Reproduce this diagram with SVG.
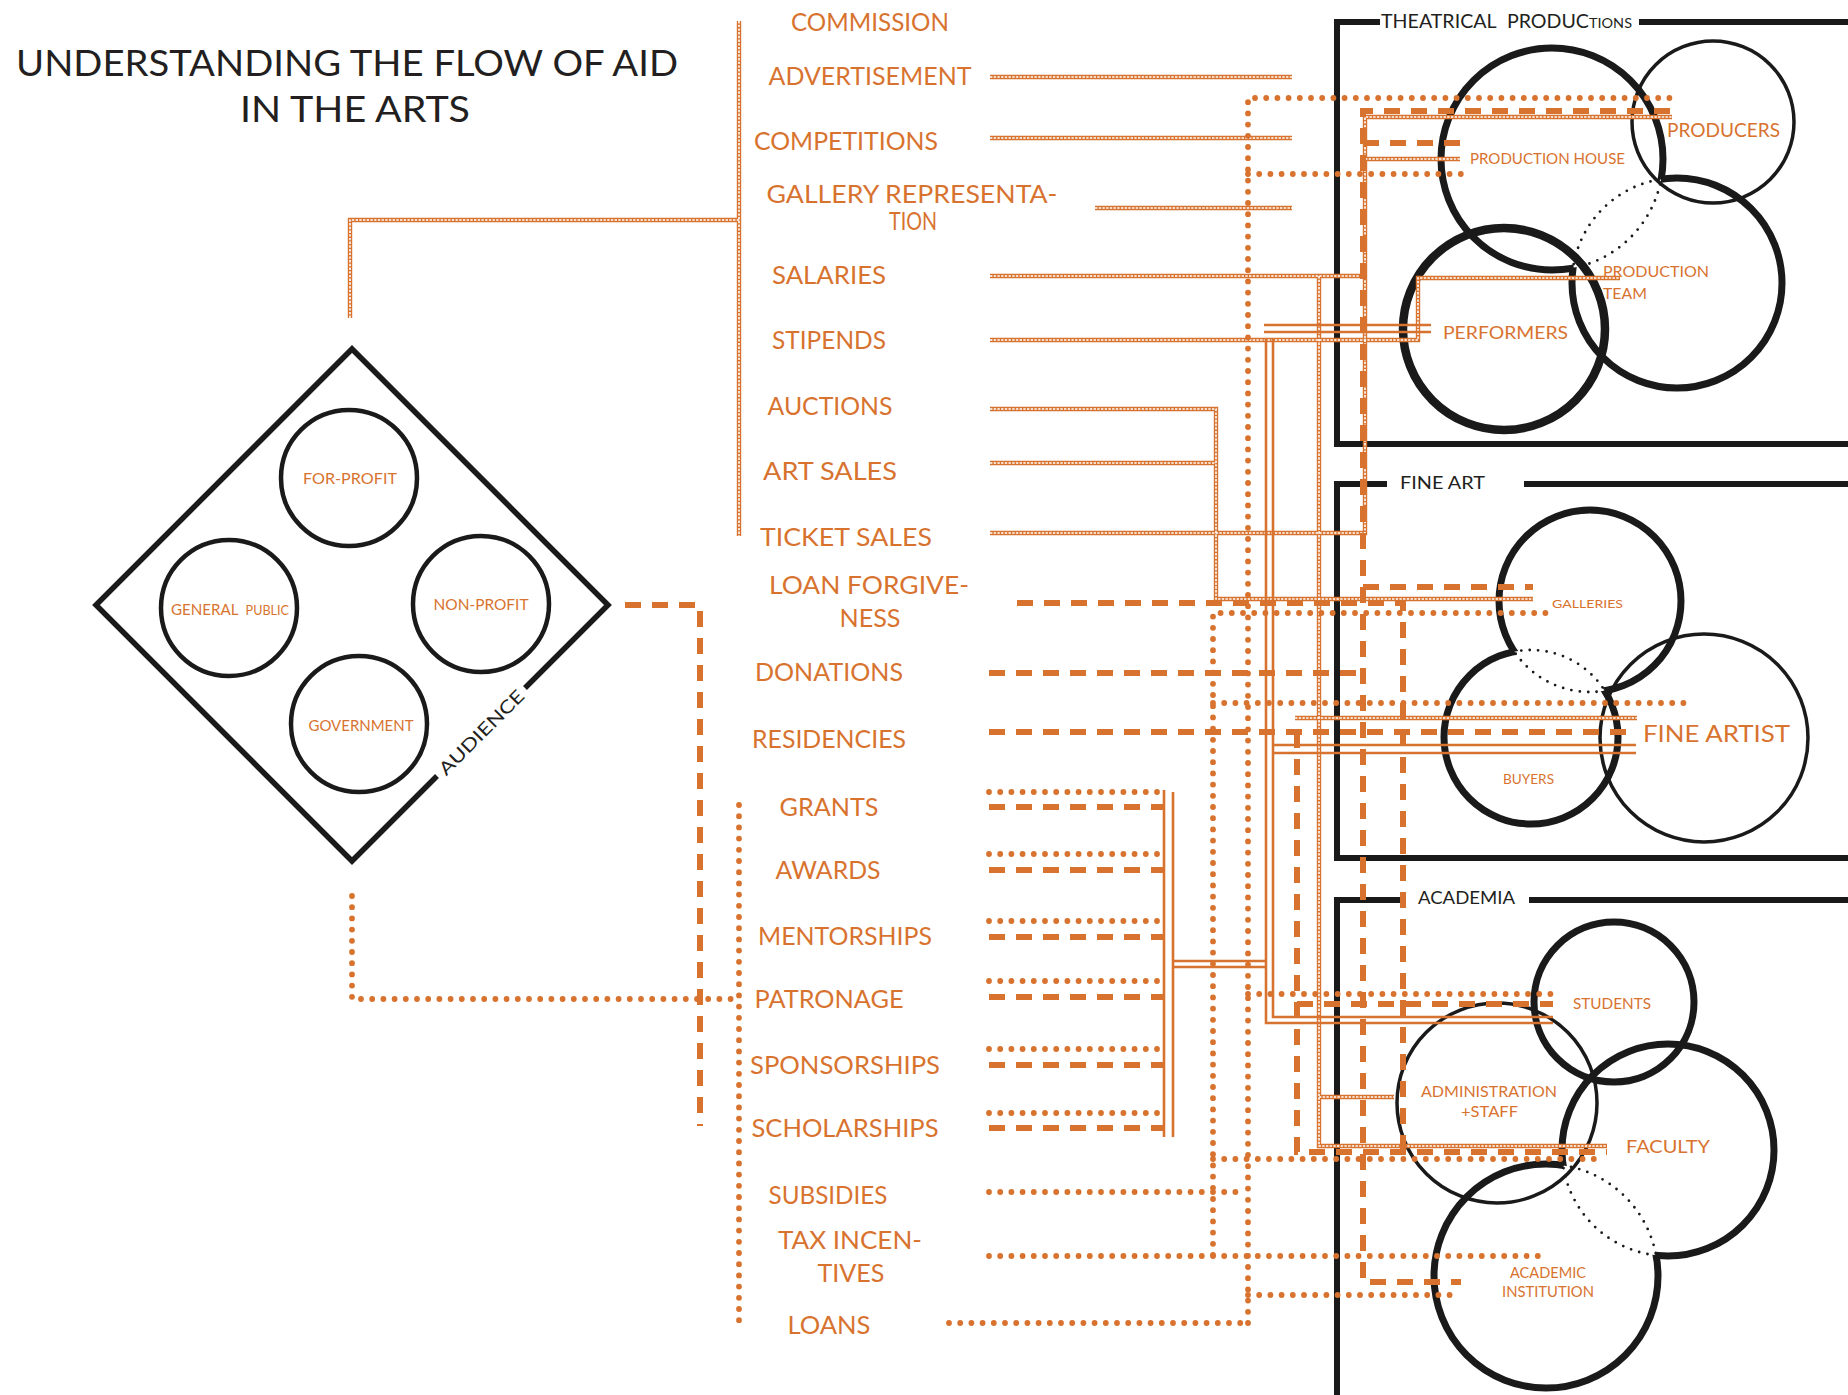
<svg xmlns="http://www.w3.org/2000/svg" width="1848" height="1395" viewBox="0 0 1848 1395">
<defs>
<style>
text{font-family:Lato,"Noto Sans",sans-serif;}
.t{fill:#231F20;}
.o{fill:#D8732F;}
.lbl{font-size:25px;text-anchor:middle;fill:#D8732F;}
.mid{text-anchor:middle;}
.ln{fill:none;stroke:#1A1A1A;stroke-width:6;stroke-linejoin:miter;}
.ring{fill:none;stroke:#1A1A1A;}
.w3{stroke-width:3.5;}
.w4{stroke-width:4.5;}
.w5{stroke-width:5.5;}
.w7{stroke-width:7;}
.w8{stroke-width:8.5;}
.lens{fill:none;stroke:#1A1A1A;stroke-width:2.8;stroke-dasharray:0 8.5;stroke-linecap:round;}
.zzA{fill:none;stroke:#D8732F;stroke-width:4.4;}
.zzB{fill:none;stroke:#FFFFFF;stroke-width:1.6;stroke-dasharray:2.4 1.3;}
.dot{fill:none;stroke:#D8732F;stroke-width:5.8;stroke-linecap:round;stroke-dasharray:0 11.2;}
.dash{fill:none;stroke:#D8732F;stroke-width:6;stroke-dasharray:16 11;}
.dbl{fill:none;stroke:#D8732F;stroke-width:2.6;}
</style>
<clipPath id="outT"><path clip-rule="evenodd" d="M0,0H1848V1395H0Z M1782,283 a105,105 0 1,0 -210,0 a105,105 0 1,0 210,0Z"/></clipPath>
<clipPath id="inT"><circle cx="1677" cy="283" r="105"/></clipPath>
<clipPath id="outH"><path clip-rule="evenodd" d="M0,0H1848V1395H0Z M1663,159 a111,111 0 1,0 -222,0 a111,111 0 1,0 222,0Z"/></clipPath>
<clipPath id="inH"><circle cx="1552" cy="159" r="111"/></clipPath>
<clipPath id="outG"><path clip-rule="evenodd" d="M0,0H1848V1395H0Z M1681,601 a91,91 0 1,0 -182,0 a91,91 0 1,0 182,0Z"/></clipPath>
<clipPath id="inG"><circle cx="1590" cy="601" r="91"/></clipPath>
<clipPath id="outB"><path clip-rule="evenodd" d="M0,0H1848V1395H0Z M1618,737 a87,87 0 1,0 -174,0 a87,87 0 1,0 174,0Z"/></clipPath>
<clipPath id="inB"><circle cx="1531" cy="737" r="87"/></clipPath>
<clipPath id="outF"><path clip-rule="evenodd" d="M0,0H1848V1395H0Z M1774,1150 a106,106 0 1,0 -212,0 a106,106 0 1,0 212,0Z"/></clipPath>
<clipPath id="inF"><circle cx="1668" cy="1150" r="106"/></clipPath>
<clipPath id="outI"><path clip-rule="evenodd" d="M0,0H1848V1395H0Z M1658,1276 a112,112 0 1,0 -224,0 a112,112 0 1,0 224,0Z"/></clipPath>
<clipPath id="inI"><circle cx="1546" cy="1276" r="112"/></clipPath>
<g id="zzpaths">
<path d="M739,21 V536"/>
<path d="M350,318 V220 H739"/>
<path d="M990,77 H1292"/>
<path d="M990,138 H1292"/>
<path d="M1095,208 H1292"/>
<path d="M990,276 H1365"/>
<path d="M1319,276 V1146 H1607"/>
<path d="M1319,1097 H1394"/>
<path d="M990,340 H1418 V278 H1620"/>
<path d="M990,409 H1216 V599 H1533"/>
<path d="M990,463 H1216"/>
<path d="M990,533 H1365 V117 H1672"/>
<path d="M1365,159 H1460"/>
<path d="M1295,718 H1637"/>
</g>
</defs>
<rect width="1848" height="1395" fill="#FFFFFF"/>

<g id="title">
<text class="t mid" x="347" y="76" font-size="37" textLength="662" lengthAdjust="spacingAndGlyphs">UNDERSTANDING THE FLOW OF AID</text>
<text class="t mid" x="355" y="122" font-size="37" textLength="230" lengthAdjust="spacingAndGlyphs">IN THE ARTS</text>
</g>

<g id="audience">
<path class="ln w5" d="M525,688 L608,605 L352,349 L96,605 L352,861 L437,776"/>
<text class="t mid" transform="translate(481,732) rotate(-45)" x="0" y="7" font-size="18" textLength="112" lengthAdjust="spacingAndGlyphs">AUDIENCE</text>
<g id="for-profit"><circle class="ring w4" cx="349" cy="478" r="68"/><text class="o mid" x="350" y="484" font-size="15.5" textLength="94" lengthAdjust="spacingAndGlyphs">FOR-PROFIT</text></g>
<g id="general-public"><circle class="ring w4" cx="229" cy="608" r="68"/><text class="o" x="171" y="615" font-size="15" textLength="118" lengthAdjust="spacingAndGlyphs">GENERAL<tspan dx="7" font-size="12.5">PUBLIC</tspan></text></g>
<g id="non-profit"><circle class="ring w4" cx="481" cy="604" r="68"/><text class="o mid" x="481" y="610" font-size="15.5" textLength="95" lengthAdjust="spacingAndGlyphs">NON-PROFIT</text></g>
<g id="government"><circle class="ring w4" cx="359" cy="724" r="68"/><text class="o mid" x="361" y="731" font-size="15.5" textLength="105" lengthAdjust="spacingAndGlyphs">GOVERNMENT</text></g>
</g>

<g id="aid-labels">
<g id="l-commission"><text class="lbl" x="870" y="31" textLength="158" lengthAdjust="spacingAndGlyphs">COMMISSION</text></g>
<g id="l-advertisement"><text class="lbl" x="870" y="85" textLength="203" lengthAdjust="spacingAndGlyphs">ADVERTISEMENT</text></g>
<g id="l-competitions"><text class="lbl" x="846" y="150" textLength="184" lengthAdjust="spacingAndGlyphs">COMPETITIONS</text></g>
<g id="l-gallery"><text class="lbl" x="912" y="203" textLength="291" lengthAdjust="spacingAndGlyphs">GALLERY REPRESENTA-</text><text class="lbl" x="913" y="230" font-size="22" textLength="48" lengthAdjust="spacingAndGlyphs">TION</text></g>
<g id="l-salaries"><text class="lbl" x="829" y="284" textLength="114" lengthAdjust="spacingAndGlyphs">SALARIES</text></g>
<g id="l-stipends"><text class="lbl" x="829" y="349" textLength="114" lengthAdjust="spacingAndGlyphs">STIPENDS</text></g>
<g id="l-auctions"><text class="lbl" x="830" y="415" textLength="125" lengthAdjust="spacingAndGlyphs">AUCTIONS</text></g>
<g id="l-artsales"><text class="lbl" x="830" y="480" textLength="134" lengthAdjust="spacingAndGlyphs">ART SALES</text></g>
<g id="l-ticketsales"><text class="lbl" x="846" y="546" textLength="172" lengthAdjust="spacingAndGlyphs">TICKET SALES</text></g>
<g id="l-loanforgiveness"><text class="lbl" x="869" y="594" textLength="200" lengthAdjust="spacingAndGlyphs">LOAN FORGIVE-</text><text class="lbl" x="870" y="627" textLength="61" lengthAdjust="spacingAndGlyphs">NESS</text></g>
<g id="l-donations"><text class="lbl" x="829" y="681" textLength="148" lengthAdjust="spacingAndGlyphs">DONATIONS</text></g>
<g id="l-residencies"><text class="lbl" x="829" y="748" textLength="154" lengthAdjust="spacingAndGlyphs">RESIDENCIES</text></g>
<g id="l-grants"><text class="lbl" x="829" y="816" textLength="99" lengthAdjust="spacingAndGlyphs">GRANTS</text></g>
<g id="l-awards"><text class="lbl" x="828" y="879" textLength="105" lengthAdjust="spacingAndGlyphs">AWARDS</text></g>
<g id="l-mentorships"><text class="lbl" x="845" y="945" textLength="174" lengthAdjust="spacingAndGlyphs">MENTORSHIPS</text></g>
<g id="l-patronage"><text class="lbl" x="829" y="1008" textLength="149" lengthAdjust="spacingAndGlyphs">PATRONAGE</text></g>
<g id="l-sponsorships"><text class="lbl" x="845" y="1074" textLength="190" lengthAdjust="spacingAndGlyphs">SPONSORSHIPS</text></g>
<g id="l-scholarships"><text class="lbl" x="845" y="1137" textLength="187" lengthAdjust="spacingAndGlyphs">SCHOLARSHIPS</text></g>
<g id="l-subsidies"><text class="lbl" x="828" y="1204" textLength="119" lengthAdjust="spacingAndGlyphs">SUBSIDIES</text></g>
<g id="l-taxincentives"><text class="lbl" x="850" y="1249" textLength="144" lengthAdjust="spacingAndGlyphs">TAX INCEN-</text><text class="lbl" x="851" y="1282" textLength="67" lengthAdjust="spacingAndGlyphs">TIVES</text></g>
<g id="l-loans"><text class="lbl" x="829" y="1334" textLength="83" lengthAdjust="spacingAndGlyphs">LOANS</text></g>
</g>

<g id="theatrical">
<path class="ln" d="M1380,22 H1337 V444 H1848 M1639,22 H1848"/>
<text class="t" x="1381" y="28" font-size="19" textLength="251" lengthAdjust="spacingAndGlyphs">THEATRICAL<tspan dx="10">PRODUC</tspan><tspan font-size="14">TIONS</tspan></text>
<g id="producers"><circle class="ring w3" cx="1713" cy="122" r="81"/><text class="o" x="1667" y="137" font-size="18.5" textLength="113" lengthAdjust="spacingAndGlyphs">PRODUCERS</text></g>
<g id="production-house"><circle class="ring w7" cx="1552" cy="159" r="111" clip-path="url(#outT)"/><circle class="lens" cx="1552" cy="159" r="111" clip-path="url(#inT)"/><text class="o" x="1470" y="164" font-size="15.5" textLength="155" lengthAdjust="spacingAndGlyphs">PRODUCTION HOUSE</text></g>
<g id="production-team"><circle class="ring w7" cx="1677" cy="283" r="105" clip-path="url(#outH)"/><circle class="lens" cx="1677" cy="283" r="105" clip-path="url(#inH)"/><text class="o" x="1603" y="277" font-size="16" textLength="106" lengthAdjust="spacingAndGlyphs">PRODUCTION</text><text class="o" x="1603" y="299" font-size="16" textLength="44" lengthAdjust="spacingAndGlyphs">TEAM</text></g>
<g id="performers"><circle class="ring w8" cx="1504" cy="329" r="101"/><text class="o" x="1443" y="339" font-size="18" textLength="125" lengthAdjust="spacingAndGlyphs">PERFORMERS</text></g>
</g>

<g id="fine-art">
<path class="ln" d="M1387,484 H1337 V858 H1848 M1524,484 H1848"/>
<text class="t" x="1400" y="489" font-size="18" textLength="85" lengthAdjust="spacingAndGlyphs">FINE ART</text>
<g id="galleries"><circle class="ring w7" cx="1590" cy="601" r="91" clip-path="url(#outB)"/><circle class="lens" cx="1590" cy="601" r="91" clip-path="url(#inB)"/><text class="o" x="1552" y="608" font-size="12" textLength="71" lengthAdjust="spacingAndGlyphs">GALLERIES</text></g>
<g id="buyers"><circle class="ring w7" cx="1531" cy="737" r="87" clip-path="url(#outG)"/><circle class="lens" cx="1531" cy="737" r="87" clip-path="url(#inG)"/><text class="o" x="1503" y="784" font-size="12.5" textLength="51" lengthAdjust="spacingAndGlyphs">BUYERS</text></g>
<g id="fine-artist"><circle class="ring w3" cx="1704" cy="738" r="104"/><text class="o" x="1643" y="742" font-size="23" textLength="147" lengthAdjust="spacingAndGlyphs">FINE ARTIST</text></g>
</g>

<g id="academia">
<path class="ln" d="M1402,900 H1337 V1395 M1529,900 H1848"/>
<text class="t" x="1418" y="904" font-size="17" textLength="97" lengthAdjust="spacingAndGlyphs">ACADEMIA</text>
<g id="students"><circle class="ring w7" cx="1614" cy="1002" r="80"/><text class="o" x="1573" y="1009" font-size="15" textLength="78" lengthAdjust="spacingAndGlyphs">STUDENTS</text></g>
<g id="administration"><circle class="ring w3" cx="1497" cy="1103" r="100"/><text class="o" x="1421" y="1097" font-size="15.5" textLength="136" lengthAdjust="spacingAndGlyphs">ADMINISTRATION</text><text class="o" x="1461" y="1117" font-size="15.5" textLength="57" lengthAdjust="spacingAndGlyphs">+STAFF</text></g>
<g id="faculty"><circle class="ring w7" cx="1668" cy="1150" r="106" clip-path="url(#outI)"/><circle class="lens" cx="1668" cy="1150" r="106" clip-path="url(#inI)"/><text class="o" x="1626" y="1153" font-size="17.5" textLength="84" lengthAdjust="spacingAndGlyphs">FACULTY</text></g>
<g id="academic-institution"><circle class="ring w7" cx="1546" cy="1276" r="112" clip-path="url(#outF)"/><circle class="lens" cx="1546" cy="1276" r="112" clip-path="url(#inF)"/><text class="o" x="1510" y="1278" font-size="14.5" textLength="76" lengthAdjust="spacingAndGlyphs">ACADEMIC</text><text class="o" x="1502" y="1297" font-size="14.5" textLength="92" lengthAdjust="spacingAndGlyphs">INSTITUTION</text></g>
</g>

<g id="connectors">
<use href="#zzpaths" class="zzA"/>
<use href="#zzpaths" class="zzB"/>
<g class="dot">
<path d="M1248,1323 V98 H1671"/>
<path d="M1248,174 H1463"/>
<path d="M1213,1255 V613 H1551"/>
<path d="M1213,703 H1686"/>
<path d="M989,1256 H1547"/>
<path d="M989,1192 H1236"/>
<path d="M1213,1159 H1603"/>
<path d="M1248,994 H1551"/>
<path d="M1248,1295 H1458"/>
<path d="M949,1323 H1248"/>
<path d="M989,792 H1165"/>
<path d="M989,854 H1165"/>
<path d="M989,921 H1165"/>
<path d="M989,981 H1165"/>
<path d="M989,1049 H1165"/>
<path d="M989,1113 H1165"/>
<path d="M739,805 V1324"/>
<path d="M352,896 V999 H739"/>
</g>
<g class="dash">
<path d="M1670,111 H1363 V1282 H1461"/>
<path d="M1363,143 H1460"/>
<path d="M1363,587 H1533"/>
<path d="M1017,603 H1403 V1152"/>
<path d="M989,673 H1363"/>
<path d="M989,732 H1634"/>
<path d="M1297,732 V1152 H1607"/>
<path d="M1297,1004 H1553"/>
<path d="M989,807 H1164"/>
<path d="M989,870 H1164"/>
<path d="M989,937 H1164"/>
<path d="M989,997 H1164"/>
<path d="M989,1065 H1164"/>
<path d="M989,1128 H1164"/>
<path d="M625,605 H700 V1126"/>
</g>
<g class="dbl">
<path d="M1264,325 H1431"/>
<path d="M1264,332 H1431"/>
<path d="M1266,338 V1023 H1553"/>
<path d="M1273,338 V1017 H1553"/>
<path d="M1273,745 H1636"/>
<path d="M1273,753 H1636"/>
<path d="M1164,790 V1137"/>
<path d="M1173,792 V1137"/>
<path d="M1173,961 H1266"/>
<path d="M1173,967 H1266"/>
</g>
</g>
</svg>
